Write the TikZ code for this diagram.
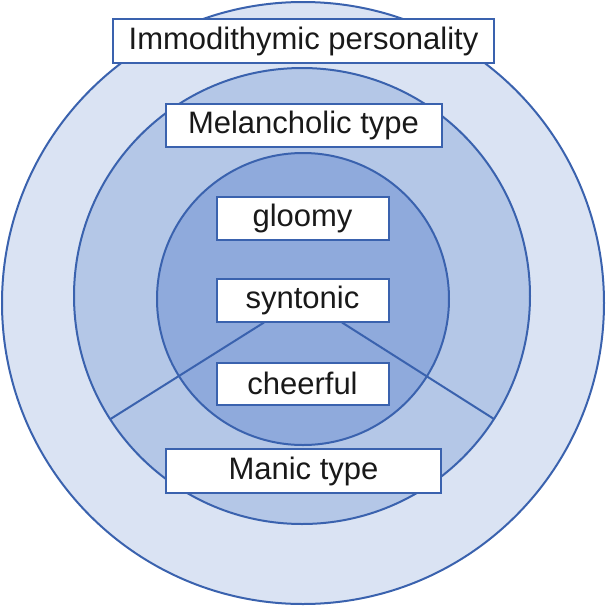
\documentclass[tikz,border=0pt]{standalone}
\usepackage{fontspec}
\setmainfont{Liberation Sans}
\definecolor{ringA}{HTML}{DAE3F3}
\definecolor{ringB}{HTML}{B4C7E7}
\definecolor{ringC}{HTML}{8FAADC}
\definecolor{edge}{HTML}{3A62AE}
\tikzset{
  ring/.style={draw=edge, line width=2pt},
  sep/.style={draw=edge, line width=2pt},
  label/.style={draw=edge, fill=white, line width=2pt, inner sep=0pt,
    font=\fontsize{31}{36}\selectfont, text=black!90, anchor=center}
}
\begin{document}
\begin{tikzpicture}[x=1pt,y=-1pt]
\useasboundingbox (0,0) rectangle (606,606);
\filldraw[ring, fill=ringA] (303,303) circle (301);
\filldraw[ring, fill=ringB] (302,296) circle (228);
\filldraw[ring, fill=ringC] (303,299) circle (146);
\coordinate (ml) at (110.5,419);
\coordinate (mr) at (494,419);
\node[label, minimum width=172pt, minimum height=43pt] (syn) at (302.5,300) {syntonic};
\draw[sep] ([xshift=-38.5pt]syn.south) -- (ml);
\draw[sep] ([xshift=39.5pt]syn.south) -- (mr);
\node[label, minimum width=381pt, minimum height=44pt] (imm) at (303.5,41) {Immodithymic personality};
\node[label, minimum width=276pt, minimum height=43pt] (mel) at (303.5,125) {Melancholic type};
\node[label, minimum width=172pt, minimum height=43pt] (glo) at (302.5,218.5) {gloomy};
\node[label, minimum width=172pt, minimum height=42pt] (che) at (302.5,383.5) {cheerful};
\node[label, minimum width=275pt, minimum height=44pt] (man) at (303.5,471) {Manic type};
\end{tikzpicture}
\end{document}
